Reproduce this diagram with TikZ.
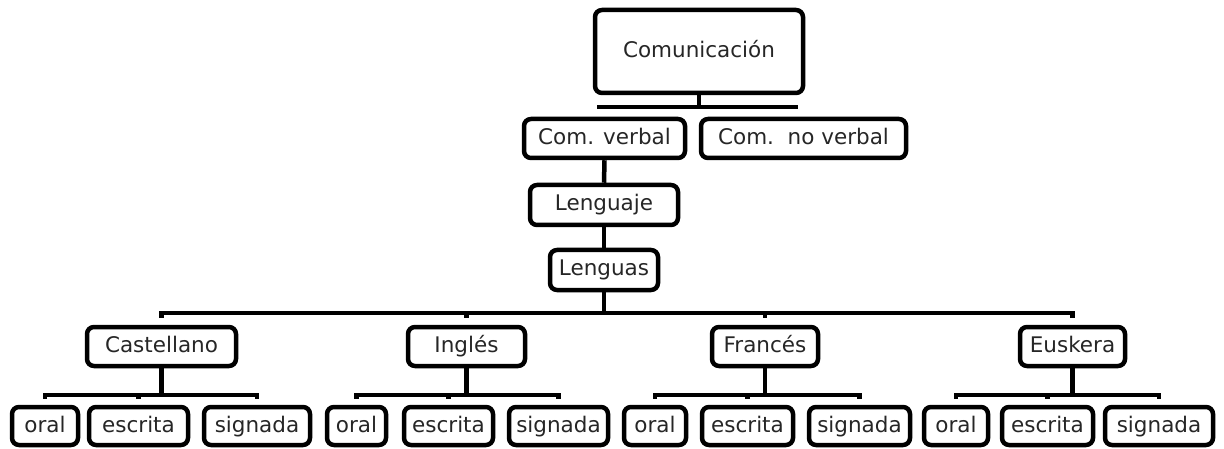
\documentclass[tikz,border=0pt]{standalone}
\usepackage{fontspec}
\setmainfont{DejaVu Sans}
\usepackage{xcolor}
\definecolor{BoxText}{rgb}{0.15, 0.15, 0.15}
\usepackage{tikz}
\usetikzlibrary{positioning}
\tikzset{
	box/.style={draw, line width=4.5pt, rounded corners=7pt, inner sep=0pt, minimum height=39pt, text height=16pt, text depth=4pt, text=BoxText, font=\fontsize{21.5}{23}\selectfont},
	link/.style={line width=4.5pt},
}

\begin{document}
\begin{tikzpicture}[x=1pt, y=-1pt]
	\useasboundingbox (0,0) rectangle (1224,449);
	\node[box, minimum width=208pt, minimum height=83pt] (com) at (699,51.5) {Comunicación};
	\node[box, minimum width=161pt] (comverbal)   at (604.5,138.5) {Com. verbal};
	\node[box, minimum width=205pt] (comnoverbal) at (803.5,138.5) {Com.\ \ no verbal};
	\node[box, minimum width=148pt, minimum height=40pt] (lenguaje) at (604,205) {Lenguaje};
	\node[box, minimum width=108pt, minimum height=40pt] (lenguas)  at (604,270) {Lenguas};
	\node[box, minimum width=149pt] (castellano) at (161.5,346.5) {Castellano};
	\node[box, minimum width=117pt] (ingles)     at (466.5,346.5) {Inglés};
	\node[box, minimum width=106pt] (frances)    at (765,346.5)   {Francés};
	\node[box, minimum width=105pt] (euskera)    at (1072.5,346.5) {Euskera};
	\node[box, minimum width=66pt,  minimum height=38pt] (oralA)    at (45,426)     {oral};
	\node[box, minimum width=99pt,  minimum height=38pt] (escritaA) at (138.5,426)  {escrita};
	\node[box, minimum width=106pt, minimum height=38pt] (signadaA) at (257,426)    {signada};
	\node[box, minimum width=59pt,  minimum height=38pt] (oralB)    at (356.5,426)  {oral};
	\node[box, minimum width=89pt,  minimum height=38pt] (escritaB) at (448.5,426)  {escrita};
	\node[box, minimum width=99pt,  minimum height=38pt] (signadaB) at (558.5,426)  {signada};
	\node[box, minimum width=62pt,  minimum height=38pt] (oralC)    at (655,426)    {oral};
	\node[box, minimum width=91pt,  minimum height=38pt] (escritaC) at (747.5,426)  {escrita};
	\node[box, minimum width=101pt, minimum height=38pt] (signadaC) at (859.5,426)  {signada};
	\node[box, minimum width=64pt,  minimum height=38pt] (oralD)    at (956,426)    {oral};
	\node[box, minimum width=91pt,  minimum height=38pt] (escritaD) at (1047.5,426) {escrita};
	\node[box, minimum width=108pt, minimum height=38pt] (signadaD) at (1159,426)   {signada};
	\coordinate (bcomL) at (597,107);
	\coordinate (bcomR) at (798,107);
	\coordinate (bmain) at (0,313);
	\coordinate (bsub)  at (0,395);
	\draw[link] (com.south) -- (com.south |- bcomL);
	\draw[link] (bcomL) -- (bcomR);
	\draw[link] (comverbal.south) -- (lenguaje.north);
	\draw[link] (lenguaje.south) -- (lenguas.north);
	\draw[link] (lenguas.south) -- (lenguas.south |- bmain);
	\draw[link] ([yshift=7pt]castellano.north) |- (euskera.north |- bmain) -- ([yshift=7pt]euskera.north);
	\draw[link] (ingles.north |- bmain) -- ([yshift=7pt]ingles.north);
	\draw[link] (frances.north |- bmain) -- ([yshift=7pt]frances.north);
	\draw[link] (castellano.south) -- (castellano.south |- bsub);
	\draw[link] ([yshift=6pt]oralA.north) |- (signadaA.north |- bsub) -- ([yshift=6pt]signadaA.north);
	\draw[link] (escritaA.north |- bsub) -- ([yshift=6pt]escritaA.north);
	\draw[link] (ingles.south) -- (ingles.south |- bsub);
	\draw[link] ([yshift=6pt]oralB.north) |- (signadaB.north |- bsub) -- ([yshift=6pt]signadaB.north);
	\draw[link] (escritaB.north |- bsub) -- ([yshift=6pt]escritaB.north);
	\draw[link] (frances.south) -- (frances.south |- bsub);
	\draw[link] ([yshift=6pt]oralC.north) |- (signadaC.north |- bsub) -- ([yshift=6pt]signadaC.north);
	\draw[link] (escritaC.north |- bsub) -- ([yshift=6pt]escritaC.north);
	\draw[link] (euskera.south) -- (euskera.south |- bsub);
	\draw[link] ([yshift=6pt]oralD.north) |- (signadaD.north |- bsub) -- ([yshift=6pt]signadaD.north);
	\draw[link] (escritaD.north |- bsub) -- ([yshift=6pt]escritaD.north);
\end{tikzpicture}
\end{document}
